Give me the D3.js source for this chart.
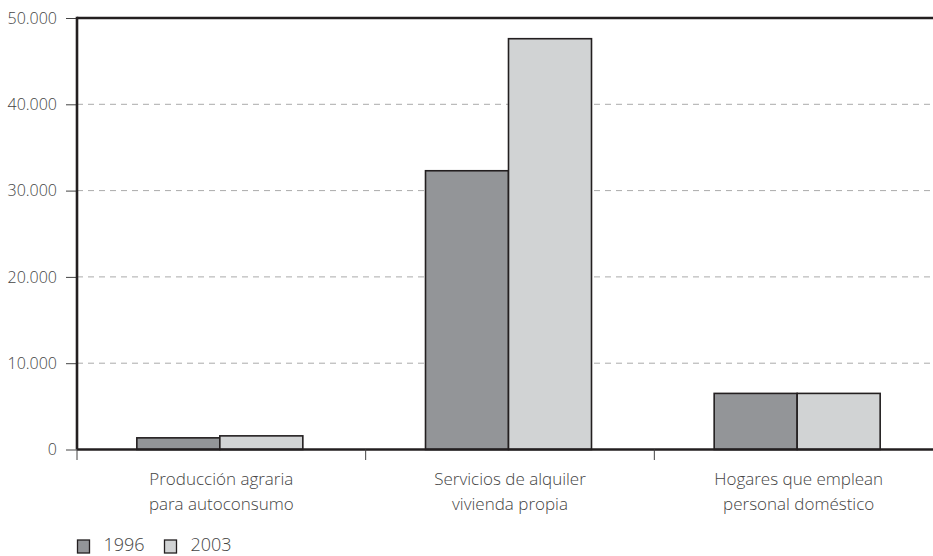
<!DOCTYPE html>
<html><head><meta charset="utf-8">
<script src="https://cdn.jsdelivr.net/npm/d3@7"></script>
<style>body{margin:0;background:#fff}svg{display:block}</style>
</head><body>
<svg id="c" width="933" height="556"></svg>
<script>
const categories = [["Producción agraria","para autoconsumo"],["Servicios de alquiler","vivienda propia"],["Hogares que emplean","personal doméstico"]];
const seriesNames = ["1996","2003"];
const values1996 = [1350, 32300, 6500];
const values2003 = [1580, 47600, 6500];
const yTicks = [0,10000,20000,30000,40000,50000];
const yTickLabels = ["0","10.000","20.000","30.000","40.000","50.000"];
const colors = ["#939598","#d1d3d4"];

(function(){
const svg = d3.select("#c");
const font = "'Open Sans', sans-serif";
const mLeft = 77, mRight = 943, mTop = 18, mBottom = 449.5;
const x = d3.scaleBand().domain(categories.map((d,i)=>i)).range([mLeft,mRight]);
const y = d3.scaleLinear().domain([0,50000]).range([mBottom, mTop]);
const xs = d3.scaleBand().domain(seriesNames).range([0,166]);
const series = [values1996, values2003];

svg.append("g").selectAll("line").data(yTicks.filter(t=>t>0 && t<50000)).join("line")
  .attr("x1",mLeft).attr("x2",933).attr("y1",d=>y(d)).attr("y2",d=>y(d))
  .attr("stroke","#aaaaaa").attr("stroke-width",1).attr("stroke-dasharray","6,5");

const yAxis = d3.axisLeft(y).tickValues(yTicks).tickFormat((d,i)=>yTickLabels[i]).tickSize(11).tickPadding(9);
const gy = svg.append("g").attr("transform",`translate(${mLeft},0)`).call(yAxis);
gy.select(".domain").remove();
gy.selectAll(".tick line").attr("stroke","#444").attr("stroke-width",1);
gy.selectAll(".tick text").attr("fill","#444").style("font-family",font).style("font-weight","300").style("font-size","16px");

categories.forEach((c,ci)=>{
  const gx = x(ci) + x.bandwidth()/2 - 84.5;
  series.forEach((vals,si)=>{
    svg.append("rect")
      .attr("x", gx + xs(seriesNames[si])).attr("width", xs.bandwidth())
      .attr("y", y(vals[ci])).attr("height", y(0)-y(vals[ci]))
      .attr("fill", colors[si]).attr("stroke","#231f20").attr("stroke-width",1.6);
  });
});

svg.append("line").attr("x1",mLeft).attr("x2",933).attr("y1",mTop).attr("y2",mTop).attr("stroke","#231f20").attr("stroke-width",2.6);
svg.append("line").attr("x1",mLeft).attr("x2",933).attr("y1",mBottom).attr("y2",mBottom).attr("stroke","#231f20").attr("stroke-width",2.6);
svg.append("line").attr("x1",mLeft).attr("x2",mLeft).attr("y1",mTop-1.3).attr("y2",mBottom).attr("stroke","#231f20").attr("stroke-width",2.6);

svg.append("g").selectAll("line").data(categories.map((d,i)=>i)).join("line")
  .attr("x1",d=>x(d)).attr("x2",d=>x(d)).attr("y1",mBottom).attr("y2",460)
  .attr("stroke","#444").attr("stroke-width",1);

categories.forEach((c,ci)=>{
  const t = svg.append("text").attr("text-anchor","middle").attr("fill","#444")
    .style("font-family",font).style("font-weight","300").style("font-size","17px");
  c.forEach((line,li)=>{
    t.append("tspan").attr("x", x(ci)+x.bandwidth()/2).attr("y", 485 + li*25).text(line);
  });
});

const lg = svg.append("g");
seriesNames.forEach((s,i)=>{
  const lx = 77.5 + i*87;
  lg.append("rect").attr("x",lx).attr("y",540).attr("width",12).attr("height",13)
    .attr("fill",colors[i]).attr("stroke","#231f20").attr("stroke-width",1.3);
  lg.append("text").attr("x",lx+26).attr("y",551).attr("fill","#444")
    .style("font-family",font).style("font-weight","300").style("font-size","18px").text(s);
});
})();
</script>
</body></html>
